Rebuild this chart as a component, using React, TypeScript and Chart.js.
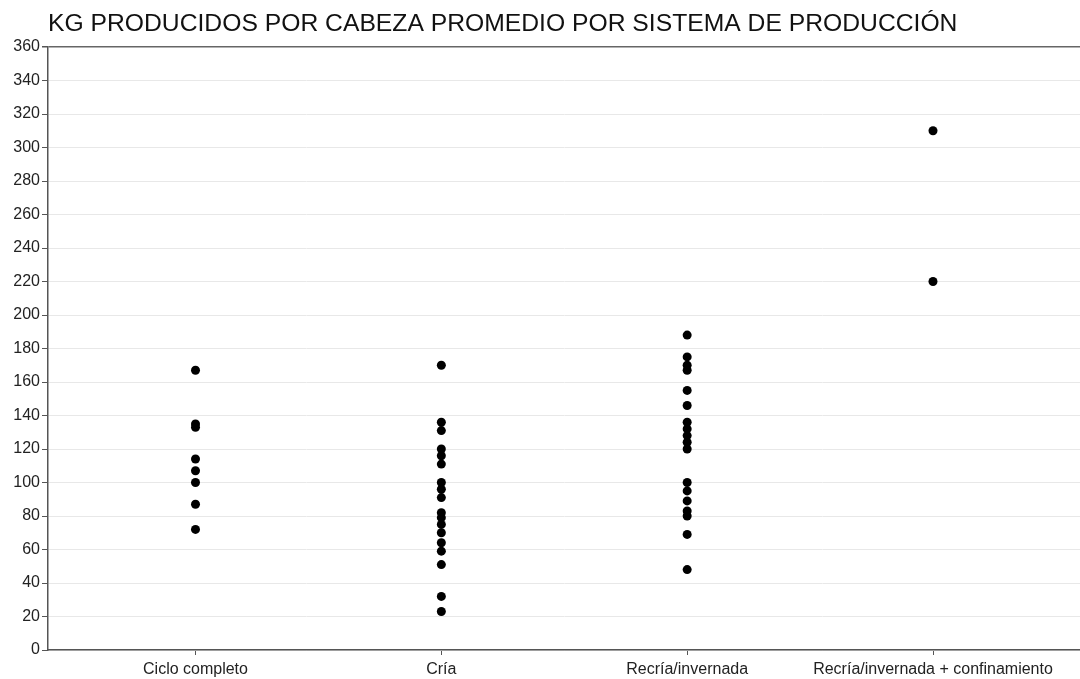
import React, { useEffect, useRef } from "react";
import { Chart, registerables } from "chart.js";

Chart.register(...registerables);

const TITLE = "KG PRODUCIDOS POR CABEZA PROMEDIO POR SISTEMA DE PRODUCCIÓN";
const categories = [
  "Ciclo completo",
  "Cría",
  "Recría/invernada",
  "Recría/invernada + confinamiento",
];
const cicloCompleto = [167, 135, 133, 114, 107, 100, 87, 72];
const cria = [170, 136, 131, 120, 116, 111, 100, 96, 91, 82, 79, 75, 70, 64, 59, 51, 32, 23];
const recriaInvernada = [188, 175, 170, 167, 155, 146, 136, 132, 128, 124, 120, 100, 95, 89, 83, 80, 69, 48];
const recriaConfinamiento = [310, 220];
const seriesValues = [cicloCompleto, cria, recriaInvernada, recriaConfinamiento];
const yMin = 0;
const yMax = 360;
const yStep = 20;

const FONT = '"Liberation Sans", Arial, sans-serif';

const titlePlugin = {
  id: "leftTitle",
  afterDraw(chart: any) {
    const { ctx, chartArea } = chart;
    ctx.save();
    ctx.font = `24.7px ${FONT}`;
    ctx.fillStyle = "#111";
    ctx.textBaseline = "middle";
    ctx.textAlign = "left";
    ctx.fillText(TITLE, chartArea.left, 24);
    ctx.restore();
  },
};

export default function App() {
  const ref = useRef<HTMLCanvasElement | null>(null);
  useEffect(() => {
    if (!ref.current) return;
    const points = seriesValues.flatMap((vals, i) => vals.map((v) => ({ x: i + 1, y: v })));
    const chart = new Chart(ref.current, {
      type: "scatter",
      data: {
        datasets: [
          {
            label: "kg",
            data: points,
            backgroundColor: "#000",
            borderColor: "#000",
            pointRadius: 4.5,
            pointHoverRadius: 4.5,
            borderWidth: 0,
          },
        ],
      },
      options: {
        animation: false,
        responsive: true,
        maintainAspectRatio: false,
        layout: { padding: { top: 47, right: 0, left: 0, bottom: 0 } },
        plugins: { legend: { display: false }, tooltip: { enabled: false }, title: { display: false } },
        scales: {
          x: {
            type: "linear",
            min: 0.4,
            max: 4.6,
            afterBuildTicks: (axis: any) => {
              axis.ticks = categories.map((_, i) => ({ value: i + 1 }));
            },
            afterFit: (axis: any) => {
              axis.height = 29;
            },
            ticks: {
              autoSkip: false,
              maxRotation: 0,
              padding: 5,
              color: "#222",
              font: { family: FONT, size: 16 },
              callback: (v: any) => categories[Math.round(v) - 1] ?? "",
            },
            grid: {
              drawOnChartArea: false,
              tickColor: "#555",
              tickLength: 5,
            },
            border: { color: "#555", width: 1.5 },
          },
          y: {
            min: yMin,
            max: yMax,
            afterFit: (axis: any) => {
              axis.width = 48;
            },
            ticks: {
              stepSize: yStep,
              padding: 2,
              color: "#222",
              font: { family: FONT, size: 16 },
            },
            grid: {
              color: (c: any) => (c.tick && c.tick.value === yMax ? "#666" : "#e8e8e8"),
              lineWidth: (c: any) => (c.tick && c.tick.value === yMax ? 1.5 : 1),
              tickColor: "#555",
              tickLength: 6,
            },
            border: { color: "#555", width: 1.5 },
          },
        },
      },
      plugins: [titlePlugin],
    });
    return () => chart.destroy();
  }, []);
  return (
    <div style={{ position: "absolute", left: 0, top: 0, width: 1080, height: 679, overflow: "hidden", background: "#fff" }}>
      <div style={{ position: "relative", width: 1085, height: 679 }}>
        <canvas ref={ref} />
      </div>
    </div>
  );
}
